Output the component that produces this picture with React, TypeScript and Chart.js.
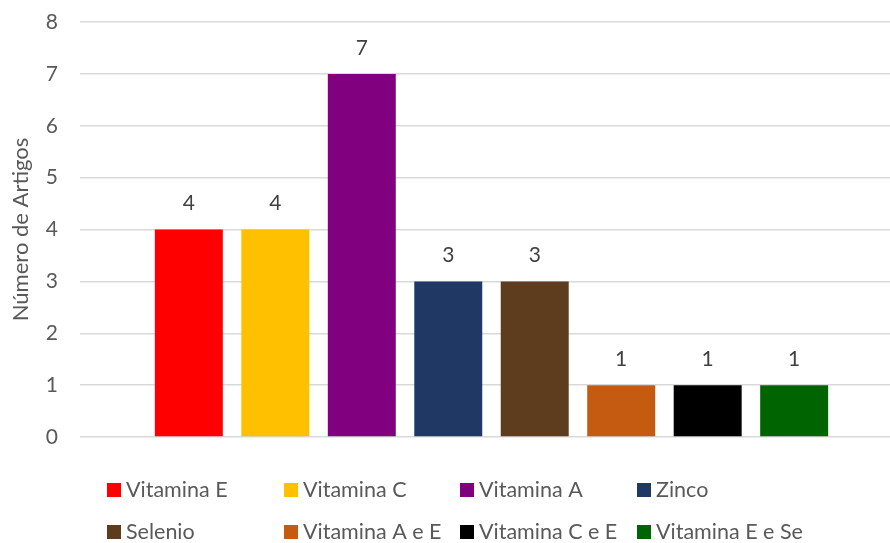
import React, { useEffect, useRef } from "react";
import { Chart, registerables } from "chart.js";

Chart.register(...registerables);

const categories = [""];
const seriesNames = [
  "Vitamina E",
  "Vitamina C",
  "Vitamina A",
  "Zinco",
  "Selenio",
  "Vitamina A e E",
  "Vitamina C e E",
  "Vitamina E e Se",
];
const seriesValues = [4, 4, 7, 3, 3, 1, 1, 1];
const seriesColors = [
  "#FF0000",
  "#FFC000",
  "#800080",
  "#1F3864",
  "#5E3C1E",
  "#C55A11",
  "#000000",
  "#006400",
];
const yTicks = [0, 1, 2, 3, 4, 5, 6, 7, 8];
const yTitle = "Número de Artigos";

const FONT = "Lato, 'Open Sans', sans-serif";

const dataLabelPlugin = {
  id: "dataLabels",
  afterDatasetsDraw(chart: any) {
    const ctx = chart.ctx;
    ctx.save();
    ctx.font = `21px ${FONT}`;
    ctx.fillStyle = "#404040";
    ctx.textAlign = "center";
    ctx.textBaseline = "middle";
    chart.data.datasets.forEach((ds: any, i: number) => {
      const meta = chart.getDatasetMeta(i);
      meta.data.forEach((bar: any, j: number) => {
        ctx.fillText(String(ds.data[j]), bar.x, bar.y - 26);
      });
    });
    ctx.restore();
  },
};

const gridLegendPlugin = {
  id: "gridLegend",
  afterDraw(chart: any) {
    const ctx = chart.ctx;
    const colX = [107, 284, 460, 637];
    const rowY = [490, 532];
    ctx.save();
    ctx.font = `21.5px ${FONT}`;
    ctx.textBaseline = "middle";
    ctx.textAlign = "left";
    chart.data.datasets.forEach((ds: any, i: number) => {
      const x = colX[i % 4];
      const y = rowY[Math.floor(i / 4)];
      ctx.fillStyle = ds.backgroundColor;
      ctx.fillRect(x, y - 7, 14, 14);
      ctx.fillStyle = "#595959";
      ctx.fillText(ds.label, x + 19, y);
    });
    ctx.restore();
  },
};

export default function App() {
  const ref = useRef<HTMLCanvasElement | null>(null);
  useEffect(() => {
    document.body.style.margin = "0";
    const chart = new Chart(ref.current!, {
      type: "bar",
      data: {
        labels: categories,
        datasets: seriesNames.map((name, i) => ({
          label: name,
          data: [seriesValues[i]],
          backgroundColor: seriesColors[i],
          borderWidth: 0,
          categoryPercentage: 0.868,
          barPercentage: 0.786,
        })),
      },
      options: {
        animation: false,
        responsive: false,
        maintainAspectRatio: false,
        layout: { padding: { top: 22, bottom: 106, left: 0, right: 0 } },
        plugins: {
          legend: { display: false },
          tooltip: { enabled: false },
        },
        scales: {
          x: {
            display: false,
          },
          y: {
            min: 0,
            max: 8,
            afterFit(scale: any) {
              scale.width = 93;
              scale.paddingTop = 0;
              scale.paddingBottom = 0;
            },
            afterBuildTicks(scale: any) {
              scale.ticks = yTicks.map((v) => ({ value: v }));
            },
            ticks: {
              font: { family: FONT, size: 21 },
              color: "#595959",
              padding: 22,
            },
            grid: {
              color: "#D9D9D9",
              lineWidth: 1.5,
              drawTicks: true,
              tickLength: 13,
              tickColor: "#D9D9D9",
            },
            border: { display: false },
            title: {
              display: true,
              text: yTitle,
              color: "#595959",
              font: { family: FONT, size: 22 },
              padding: { top: 8, bottom: 0 },
            },
          },
        },
      },
      plugins: [dataLabelPlugin, gridLegendPlugin],
    });
    return () => chart.destroy();
  }, []);
  return (
    <div style={{ position: "fixed", left: 0, top: 0, width: 890, height: 543, background: "#fff" }}>
      <canvas ref={ref} width={890} height={543} style={{ width: 890, height: 543 }} />
    </div>
  );
}
